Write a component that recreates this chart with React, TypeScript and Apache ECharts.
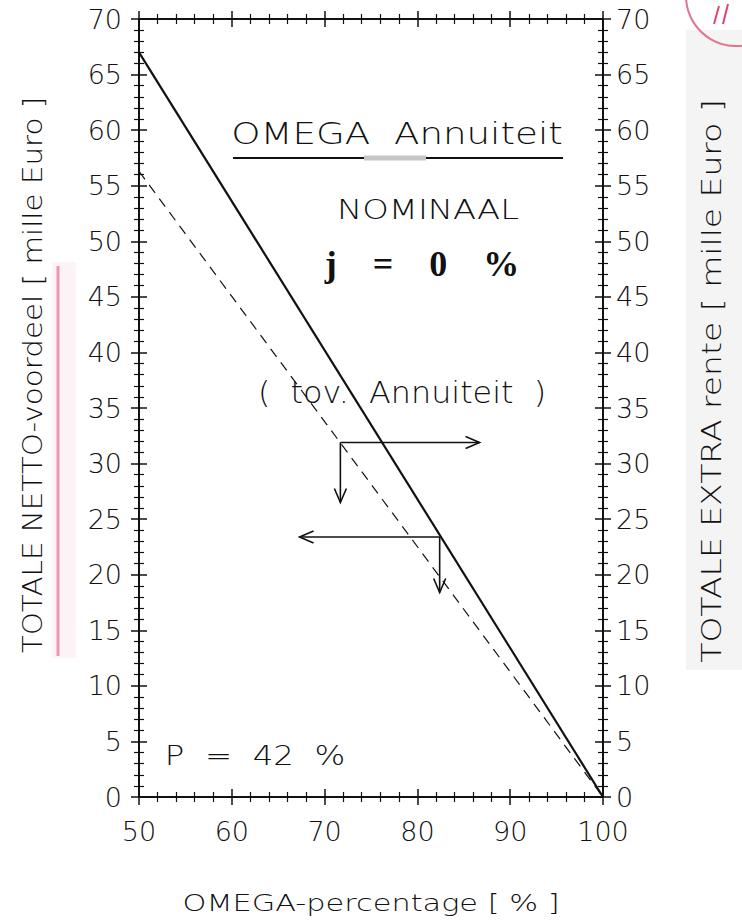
import React, { useEffect, useRef } from "react";
import * as echarts from "echarts";

// ---- data ----
const xTicks = [50, 60, 70, 80, 90, 100];
const yTicks = [0, 5, 10, 15, 20, 25, 30, 35, 40, 45, 50, 55, 60, 65, 70];
const omegaPct = [50, 100];
const nettoVoordeel = [67, 0]; // solid line
const extraRente = [56.3, 0]; // dashed line

// arrows (start x, start y, end x, end y)
const arrowStartX = [71.7, 71.7, 82.4, 82.4];
const arrowStartY = [31.9, 31.9, 23.4, 23.4];
const arrowEndX = [86.7, 71.7, 67.3, 82.4];
const arrowEndY = [31.9, 26.5, 23.4, 18.4];

const titleText = "OMEGA  Annuiteit";
const nominalText = "NOMINAAL";
const jText = "j    =    0    %";
const tovText = "(  tov.  Annuiteit  )";
const pText = "P  =  42  %";
const leftName = "TOTALE NETTO-voordeel [ mille Euro ]";
const rightName = "TOTALE EXTRA rente [ mille Euro ]";
const bottomName = "OMEGA-percentage [ % ]";

const FONT = "DejaVu Sans";
const WEIGHT = 200;
const INK = "#111";

function axisCommon(min: number, max: number, interval: number) {
  return { type: "value", min, max, interval, splitLine: { show: false }, minorSplitLine: { show: false } };
}

function makeX(position: string, inside: boolean) {
  const main = !inside;
  return {
    ...axisCommon(xTicks[0], xTicks[xTicks.length - 1], xTicks[1] - xTicks[0]),
    position,
    axisLine: { show: main, onZero: false, lineStyle: { color: INK, width: 2 } },
    axisTick: { show: true, inside, length: 8, lineStyle: { color: INK, width: 1.5 } },
    minorTick: { show: true, splitNumber: 5, length: 5, lineStyle: { color: INK, width: 1.2 } },
    axisLabel: {
      show: main && position === "bottom",
      margin: 21,
      fontSize: 27,
      fontFamily: FONT,
      fontWeight: WEIGHT,
      color: INK,
    },
  };
}

function makeY(position: string, inside: boolean) {
  const main = !inside;
  return {
    ...axisCommon(yTicks[0], yTicks[yTicks.length - 1], yTicks[1] - yTicks[0]),
    position,
    axisLine: { show: main, onZero: false, lineStyle: { color: INK, width: 2 } },
    axisTick: { show: true, inside, length: 8, lineStyle: { color: INK, width: 1.5 } },
    minorTick: { show: true, splitNumber: 5, length: 5, lineStyle: { color: INK, width: 1.2 } },
    axisLabel: {
      show: main,
      margin: position === "left" ? 17 : 13,
      fontSize: 27,
      fontFamily: FONT,
      fontWeight: WEIGHT,
      color: INK,
    },
  };
}

function txt(text: string, x: number, y: number, size: number, sx: number, extra: any = {}, rot = 0) {
  return {
    type: "text",
    x,
    y,
    rotation: rot,
    scaleX: sx,
    style: {
      text,
      fontSize: size,
      fontFamily: FONT,
      fontWeight: WEIGHT,
      fill: INK,
      textAlign: "center",
      textVerticalAlign: "middle",
      align: "center",
      verticalAlign: "middle",
      ...extra,
    },
  };
}

export default function App() {
  const ref = useRef<HTMLDivElement>(null);
  useEffect(() => {
    const chart = echarts.init(ref.current!, null, { renderer: "svg" });
    const arrowData = arrowStartX.map((x, i) => [x, arrowStartY[i], arrowEndX[i], arrowEndY[i]]);
    const option: any = {
      animation: false,
      backgroundColor: "#fff",
      grid: { left: 139, top: 19, right: 139, bottom: 126, containLabel: false },
      xAxis: [makeX("bottom", false), makeX("bottom", true), makeX("top", false), makeX("top", true)],
      yAxis: [makeY("left", false), makeY("left", true), makeY("right", false), makeY("right", true)],
      series: [
        {
          type: "line",
          xAxisIndex: 0,
          yAxisIndex: 0,
          data: omegaPct.map((x, i) => [x, nettoVoordeel[i]]),
          symbol: "none",
          lineStyle: { color: INK, width: 2.2 },
          z: 5,
        },
        {
          type: "line",
          xAxisIndex: 0,
          yAxisIndex: 0,
          data: omegaPct.map((x, i) => [x, extraRente[i]]),
          symbol: "none",
          lineStyle: { color: INK, width: 1.2, type: [10, 7] },
          z: 5,
        },
        {
          type: "custom",
          xAxisIndex: 0,
          yAxisIndex: 0,
          encode: { x: [0, 2], y: [1, 3] },
          data: arrowData,
          z: 6,
          renderItem: (params: any, api: any) => {
            const p1 = api.coord([api.value(0), api.value(1)]);
            const p2 = api.coord([api.value(2), api.value(3)]);
            const dx = p2[0] - p1[0];
            const dy = p2[1] - p1[1];
            const len = Math.sqrt(dx * dx + dy * dy) || 1;
            const ux = dx / len;
            const uy = dy / len;
            const hl = 14;
            const hw = 6;
            const bx = p2[0] - ux * hl;
            const by = p2[1] - uy * hl;
            const h1 = [bx - uy * hw, by + ux * hw];
            const h2 = [bx + uy * hw, by - ux * hw];
            return {
              type: "group",
              children: [
                { type: "line", shape: { x1: p1[0], y1: p1[1], x2: p2[0], y2: p2[1] }, style: { stroke: INK, lineWidth: 1.6 } },
                { type: "polyline", shape: { points: [h1, p2, h2] }, style: { stroke: INK, fill: "none", lineWidth: 1.6 } },
              ],
            };
          },
        },
      ],
      graphic: [
        { type: "rect", shape: { x: 686, y: 30, width: 56, height: 640 }, style: { fill: "#f4f4f4" } },
        { type: "rect", shape: { x: 52, y: 262, width: 24, height: 396 }, style: { fill: "#fdf2f5" } },
        { type: "rect", shape: { x: 56.5, y: 266, width: 3, height: 390 }, style: { fill: "#ec98b0" } },
        { type: "circle", shape: { cx: 736, cy: -4, r: 50 }, style: { fill: "none", stroke: "#e3738f", lineWidth: 2 } },
        { type: "line", shape: { x1: 719, y1: 6, x2: 714, y2: 24 }, style: { stroke: "#d94a6c", lineWidth: 2 } },
        { type: "line", shape: { x1: 728, y1: 4, x2: 723, y2: 24 }, style: { stroke: "#d94a6c", lineWidth: 2 } },
        { type: "line", shape: { x1: 233, y1: 158, x2: 563, y2: 158 }, style: { stroke: INK, lineWidth: 2 } },
        { type: "rect", shape: { x: 364, y: 155.5, width: 62, height: 5 }, style: { fill: "#c6c6c6" } },
        txt(titleText, 397, 133, 31, 1.2),
        txt(nominalText, 428, 210, 27, 1.25),
        txt(jText, 422, 264, 36, 1, { fontFamily: "Liberation Serif", fontWeight: "bold" }),
        txt(tovText, 402, 392, 30, 1.06),
        txt(pText, 255, 755, 27, 1.2),
        txt(leftName, 33, 375, 26, 1.13, {}, Math.PI / 2),
        txt(rightName, 712, 381, 26, 1.27, {}, Math.PI / 2),
        txt(bottomName, 371, 903, 23, 1.32),
      ],
    };
    chart.setOption(option);
    return () => chart.dispose();
  }, []);
  return (
    <div
      ref={ref}
      style={{ position: "fixed", left: 0, top: 0, width: 742, height: 923, background: "#fff" }}
    />
  );
}
